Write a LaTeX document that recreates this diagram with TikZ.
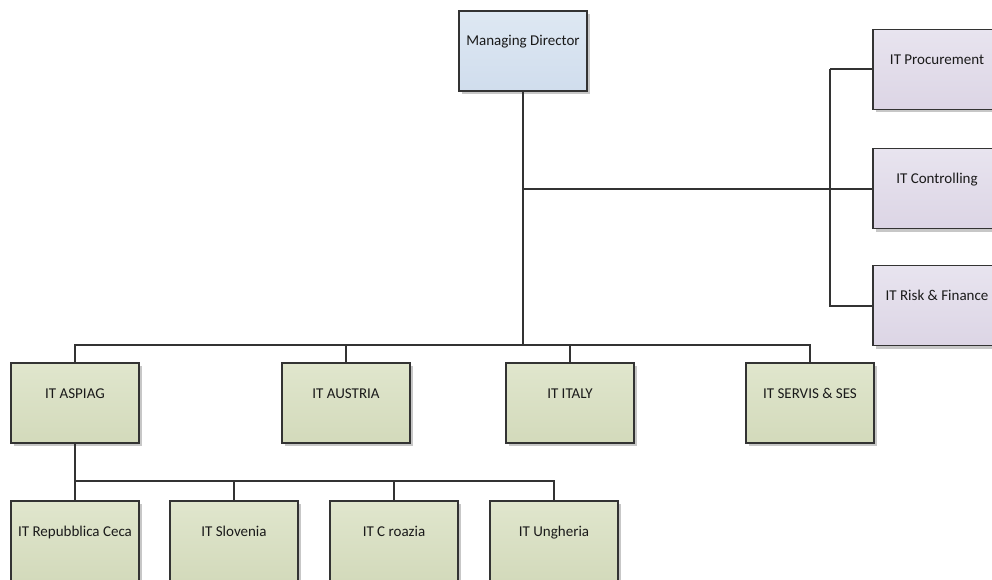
\documentclass[tikz,border=0pt]{standalone}
\usepackage{fontspec}
\setmainfont{Carlito}
\usetikzlibrary{shadows}

\definecolor{lineC}{HTML}{333333}
\definecolor{textC}{HTML}{1A1A1A}
\definecolor{blueTop}{HTML}{DEE8F3}
\definecolor{blueBot}{HTML}{D0DDED}
\definecolor{lilacTop}{HTML}{E8E4EF}
\definecolor{lilacBot}{HTML}{DCD5E5}
\definecolor{greenTop}{HTML}{E0E6CD}
\definecolor{greenBot}{HTML}{D3DABB}

\tikzset{
  box/.style={draw=lineC, line width=1.3pt, minimum width=128pt,
    inner xsep=2pt, inner ysep=0pt, text height=35pt, text depth=45pt,
    font=\fontsize{15}{17}\selectfont, text=textC,
    drop shadow={shadow xshift=3pt, shadow yshift=-3pt, fill=black!22, opacity=1}},
  headbox/.style={box, top color=blueTop, bottom color=blueBot},
  staffbox/.style={box, top color=lilacTop, bottom color=lilacBot},
  unitbox/.style={box, top color=greenTop, bottom color=greenBot},
  link/.style={draw=lineC, line width=2pt}
}

\begin{document}
\begin{tikzpicture}[x=1pt, y=-1pt]
  \useasboundingbox[fill=white] (0,0) rectangle (992,580);

  % top management
  \node[headbox] (md) at (523,51) {Managing Director};

  % staff functions on the right
  \node[staffbox] (proc) at (937,69.5) {IT Procurement};
  \node[staffbox] (ctrl) at (937,188.5) {IT Controlling};
  \node[staffbox] (risk) at (937,305.5) {IT Risk \& Finance};

  % country units
  \node[unitbox] (aspiag)  at (75,403)  {IT ASPIAG};
  \node[unitbox] (austria) at (346,403) {IT AUSTRIA};
  \node[unitbox] (italy)   at (570,403) {IT ITALY};
  \node[unitbox] (servis)  at (810,403) {IT SERVIS \& SES};

  % ASPIAG subsidiaries
  \node[unitbox] (ceca)     at (75,541)  {IT Repubblica Ceca};
  \node[unitbox] (slovenia) at (234,541) {IT Slovenia};
  \node[unitbox] (croazia)  at (394,541) {IT C roazia};
  \node[unitbox] (ungheria) at (554,541) {IT Ungheria};

  % routing helpers
  \coordinate (staffbus) at (830,0);
  \coordinate (unitbus) at (0,345);
  \coordinate (subbus) at (0,481);

  % main trunk
  \draw[link] (md.south) -- (md.south |- unitbus);
  \draw[link] (md.south |- ctrl.west) -- (ctrl.west);

  % staff branch
  \draw[link] (staffbus |- proc.west) -- (proc.west);
  \draw[link] (staffbus |- proc.west) -- (staffbus |- risk.west) -- (risk.west);

  % country bus
  \draw[link] (aspiag.north) -- (aspiag.north |- unitbus) -- (servis.north |- unitbus) -- (servis.north);
  \draw[link] (austria.north) -- (austria.north |- unitbus);
  \draw[link] (italy.north) -- (italy.north |- unitbus);

  % subsidiary bus
  \draw[link] (aspiag.south) -- (aspiag.south |- subbus) -- (ungheria.north |- subbus) -- (ungheria.north);
  \draw[link] (ceca.north) -- (ceca.north |- subbus);
  \draw[link] (slovenia.north) -- (slovenia.north |- subbus);
  \draw[link] (croazia.north) -- (croazia.north |- subbus);
\end{tikzpicture}
\end{document}
